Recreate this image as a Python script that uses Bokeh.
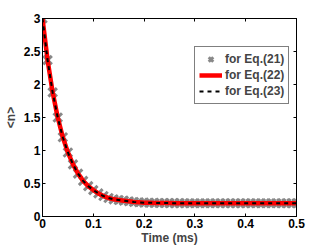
from bokeh.plotting import figure
from bokeh.models import LinearAxis, Legend, LegendItem, FixedTicker, Range1d
from bokeh.embed import file_html
from bokeh.resources import INLINE

# time in ms, mean occupation <n>
t = [0.00, 0.01, 0.02, 0.03, 0.04, 0.05, 0.06, 0.07, 0.08, 0.09,
     0.10, 0.11, 0.12, 0.13, 0.14, 0.15, 0.16, 0.17, 0.18, 0.19,
     0.20, 0.21, 0.22, 0.23, 0.24, 0.25, 0.26, 0.27, 0.28, 0.29,
     0.30, 0.31, 0.32, 0.33, 0.34, 0.35, 0.36, 0.37, 0.38, 0.39,
     0.40, 0.41, 0.42, 0.43, 0.44, 0.45, 0.46, 0.47, 0.48, 0.49, 0.50]
n_eq21 = [3.00, 2.37, 1.88, 1.50, 1.20, 0.97, 0.79, 0.65, 0.54, 0.46,
          0.40, 0.35, 0.31, 0.28, 0.26, 0.25, 0.24, 0.23, 0.22, 0.215,
          0.21, 0.208, 0.206, 0.205, 0.204, 0.203, 0.202, 0.202, 0.201, 0.201,
          0.200, 0.200, 0.200, 0.200, 0.200, 0.200, 0.200, 0.200, 0.200, 0.200,
          0.200, 0.200, 0.200, 0.200, 0.200, 0.200, 0.200, 0.200, 0.200, 0.200, 0.200]
n_eq22 = list(n_eq21)
n_eq23 = list(n_eq21)

x_ticks = [0, 0.1, 0.2, 0.3, 0.4, 0.5]
y_ticks = [0, 0.5, 1, 1.5, 2, 2.5, 3]
labels = ["for Eq.(21)", "for Eq.(22)", "for Eq.(23)"]

FONT = "Liberation Sans"

p = figure(output_backend="svg", toolbar_location=None,
           x_range=Range1d(0, 0.5), y_range=Range1d(0, 3),
           min_border_left=42, min_border_right=29, min_border_top=18, min_border_bottom=28,
           frame_width=254, frame_height=198)
p.grid.visible = False
p.outline_line_color = "black"
p.outline_line_width = 1
p.background_fill_color = "white"
p.border_fill_color = "white"

r21 = p.scatter(t, n_eq21, marker="x", size=12, line_width=3, line_color="#888888")
r22 = p.line(t, n_eq22, line_width=4.5, line_color="#ff0000")
r23 = p.line(t, n_eq23, line_width=2, line_color="black", line_dash="4 4")

for ax in (p.xaxis[0], p.yaxis[0]):
    ax.major_label_text_font = FONT
    ax.major_label_text_font_style = "bold"
    ax.major_label_text_font_size = "12px"
    ax.major_label_text_color = "black"
    ax.axis_label_text_font = FONT
    ax.axis_label_text_font_style = "bold"
    ax.axis_label_text_font_size = "12px"
    ax.major_tick_in = 3
    ax.major_tick_out = 0
    ax.minor_tick_in = 0
    ax.minor_tick_out = 0
    ax.axis_line_color = "black"
    ax.major_label_standoff = 2

p.xaxis[0].ticker = FixedTicker(ticks=x_ticks)
p.yaxis[0].ticker = FixedTicker(ticks=y_ticks)
p.xaxis[0].axis_label = "Time (ms)"
p.xaxis[0].axis_label_standoff = 0
p.yaxis[0].axis_label = "<n>"
p.yaxis[0].axis_label_standoff = 3

top = LinearAxis(ticker=FixedTicker(ticks=x_ticks),
                 major_label_overrides={v: "" for v in x_ticks},
                 major_tick_in=3, major_tick_out=0, minor_tick_in=0, minor_tick_out=0,
                 major_label_standoff=0, axis_line_color="black")
right = LinearAxis(ticker=FixedTicker(ticks=y_ticks),
                   major_label_overrides={v: "" for v in y_ticks},
                   major_tick_in=3, major_tick_out=0, minor_tick_in=0, minor_tick_out=0,
                   major_label_standoff=0, axis_line_color="black")
p.add_layout(top, "above")
p.add_layout(right, "right")

legend = Legend(items=[LegendItem(label=labels[0], renderers=[r21]),
                       LegendItem(label=labels[1], renderers=[r22]),
                       LegendItem(label=labels[2], renderers=[r23])],
                location=(152, 112))
legend.label_text_font = FONT
legend.label_text_font_style = "bold"
legend.label_text_font_size = "12px"
legend.border_line_color = "black"
legend.border_line_width = 1
legend.background_fill_alpha = 1
legend.padding = 4
legend.spacing = 0
legend.glyph_width = 23
legend.glyph_height = 16
legend.label_height = 16
legend.label_standoff = 3
legend.margin = 0
p.add_layout(legend)

open("out.html", "w").write(file_html(p, INLINE))
